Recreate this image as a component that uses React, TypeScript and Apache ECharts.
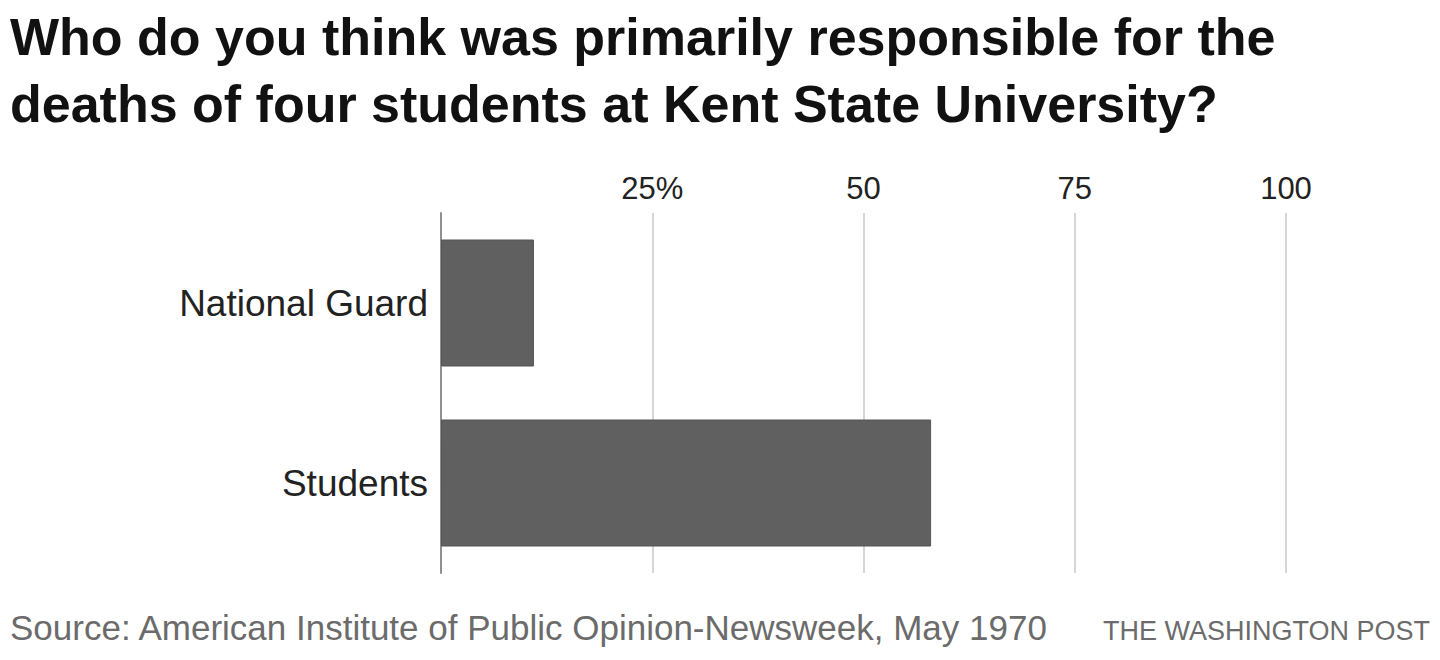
import React, { useEffect, useRef } from "react";
import * as echarts from "echarts";

const categories = ["National Guard", "Students"];
const values = [11, 58];
const tickValues = [25, 50, 75, 100];
const tickLabels = ["25%", "50", "75", "100"];
const titleLines = [
  "Who do you think was primarily responsible for the",
  "deaths of four students at Kent State University?",
];
const sourceText = "Source: American Institute of Public Opinion-Newsweek, May 1970";
const creditText = "THE WASHINGTON POST";

const FONT = "'Liberation Sans', Arial, sans-serif";

export default function App() {
  const ref = useRef<HTMLDivElement>(null);
  useEffect(() => {
    if (!ref.current) return;
    const chart = echarts.init(ref.current, null, { renderer: "svg" });
    chart.setOption({
      animation: false,
      backgroundColor: "#ffffff",
      textStyle: { fontFamily: FONT },
      title: {
        text: titleLines.join("\n"),
        left: 10,
        top: 3,
        padding: 0,
        textStyle: {
          fontFamily: FONT,
          fontSize: 52,
          fontWeight: "bold",
          color: "#111111",
          lineHeight: 67,
        },
      },
      grid: { left: 441, right: 154, top: 213, bottom: 87 },
      xAxis: {
        type: "value",
        position: "top",
        min: 0,
        max: 100,
        interval: 25,
        axisLine: { show: false },
        axisTick: { show: false },
        splitLine: { show: true, lineStyle: { color: "#c8c8c8", width: 1.5 } },
        axisLabel: {
          fontFamily: FONT,
          fontSize: 31,
          color: "#222222",
          margin: 9,
          formatter: (v: number) => {
            const i = tickValues.indexOf(v);
            return i >= 0 ? tickLabels[i] : "";
          },
        },
      },
      yAxis: {
        type: "category",
        inverse: true,
        data: categories,
        axisLine: { show: true, lineStyle: { color: "#909090", width: 2 } },
        axisTick: { show: false },
        axisLabel: {
          fontFamily: FONT,
          fontSize: 37,
          color: "#222222",
          margin: 13,
        },
      },
      series: [
        {
          type: "bar",
          data: values,
          barWidth: 127,
          itemStyle: { color: "#606060", borderColor: "#555555", borderWidth: 1 },
        },
      ],
      graphic: [
        {
          type: "text",
          left: 10,
          top: 610,
          style: {
            text: sourceText,
            fontFamily: FONT,
            fontSize: 35,
            fill: "#6b6b6b",
          },
        },
        {
          type: "text",
          right: 10,
          top: 617,
          style: {
            text: creditText,
            fontFamily: FONT,
            fontSize: 27,
            fill: "#6b6b6b",
          },
        },
      ],
    });
    return () => chart.dispose();
  }, []);
  return (
    <div
      ref={ref}
      style={{ position: "fixed", left: 0, top: 0, width: 1440, height: 660 }}
    />
  );
}
